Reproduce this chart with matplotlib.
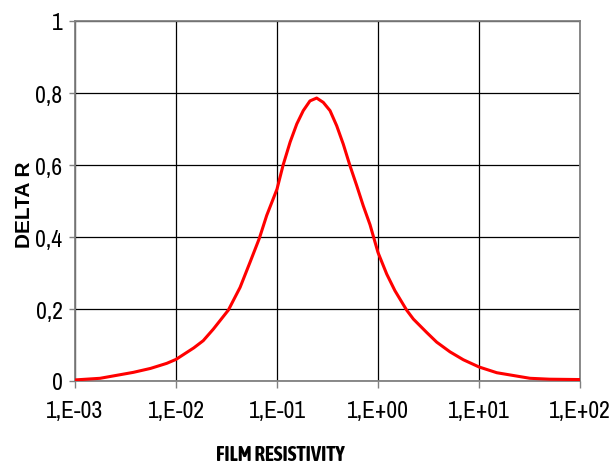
import matplotlib
matplotlib.use('Agg')
import matplotlib.pyplot as plt

# values
resistivity = [0.001, 0.00177, 0.00378, 0.0056, 0.00809, 0.01, 0.015, 0.0186, 0.0234,
               0.0330, 0.0431, 0.0541, 0.0668, 0.0791, 0.1, 0.115, 0.135, 0.157,
               0.182, 0.212, 0.247, 0.287, 0.335, 0.390, 0.453, 0.528, 0.615,
               0.714, 0.834, 1.0, 1.22, 1.47, 1.92, 2.24, 3.03, 3.81, 5.16,
               7.0, 10.0, 15.0, 32.0, 50.0, 100.0]
delta_r = [0.003, 0.0075, 0.024, 0.035, 0.049, 0.060, 0.092, 0.112, 0.144,
           0.197, 0.26, 0.33, 0.396, 0.46, 0.533, 0.60, 0.664, 0.714,
           0.751, 0.778, 0.786, 0.774, 0.751, 0.709, 0.658, 0.598, 0.543,
           0.487, 0.434, 0.357, 0.297, 0.251, 0.197, 0.172, 0.135, 0.108, 0.081,
           0.059, 0.039, 0.023, 0.0075, 0.005, 0.004]

xticks = [1e-3, 1e-2, 1e-1, 1e0, 1e1, 1e2]
xtick_labels = ['1,E-03', '1,E-02', '1,E-01', '1,E+00', '1,E+01', '1,E+02']
yticks = [0, 0.2, 0.4, 0.6, 0.8, 1.0]
ytick_labels = ['0', '0,2', '0,4', '0,6', '0,8', '1']

narrow = ['Archivo Narrow', 'Liberation Sans', 'DejaVu Sans']
narrow_bold = ['Asap Condensed', 'Liberation Sans', 'DejaVu Sans']

fig = plt.figure(figsize=(6.1, 4.64), dpi=100)
ax = fig.add_axes([75/610, 82/464, 505/610, 360/464])

ax.plot(resistivity, delta_r, color='#ff0000', lw=2.2, zorder=3)

ax.set_xscale('log')
ax.set_xlim(1e-3, 1e2)
ax.set_ylim(0, 1)
ax.set_xticks(xticks)
ax.set_xticklabels(xtick_labels, family=narrow, fontsize=17)
ax.minorticks_off()
ax.set_yticks(yticks)
ax.set_yticklabels(ytick_labels, family=narrow, fontsize=17)

ax.grid(True, color='black', lw=0.9)
ax.set_axisbelow(True)
for s in ax.spines.values():
    s.set_color('#808080')
    s.set_linewidth(1.3)
ax.tick_params(axis='y', length=4, width=1, color='#808080', pad=5)
ax.tick_params(axis='x', length=5, width=1, color='#808080', pad=9)

fig.text(280/610, 1 - 455/464, 'FILM RESISTIVITY', family=narrow_bold, fontweight='bold',
         fontsize=15, ha='center', va='center')
fig.text(24/610, 1 - 205/464, 'DELTA R', family=['Liberation Sans', 'DejaVu Sans'],
         fontweight='bold', fontsize=15, rotation=90, ha='center', va='center')

fig.savefig('out.png', dpi=100)
